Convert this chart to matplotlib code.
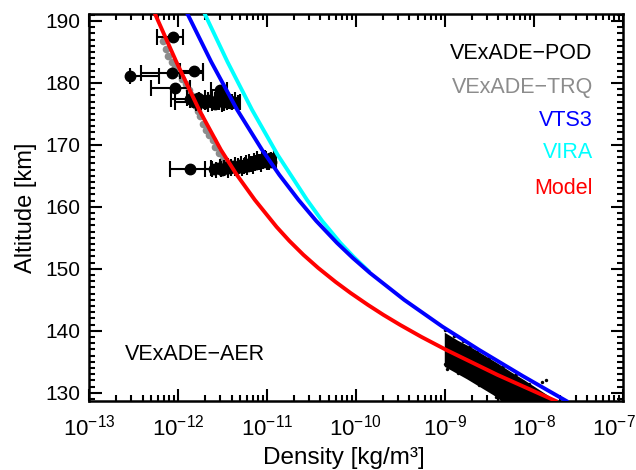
import numpy as np
import matplotlib
matplotlib.use("Agg")
import matplotlib.pyplot as plt
import matplotlib.transforms as mtransforms
from matplotlib.ticker import LogLocator, MultipleLocator

# --- model / reference curves (log10 density, altitude km) ---
model_alt = [191.13, 183.39, 175.65, 169.19, 165.16, 161.13, 156.77, 154.52, 152.26, 150.16, 147.90,
             146.13, 144.19, 142.58, 140.97, 139.03, 136.94, 132.90, 128.71]
model_log = [-12.258, -12.018, -11.762, -11.517, -11.338, -11.136, -10.891, -10.748, -10.589, -10.424, -10.228,
             -10.061, -9.864, -9.690, -9.503, -9.263, -8.985, -8.407, -7.755]

vts3_alt = [191.13, 183.39, 175.65, 169.19, 165.16, 161.13, 157.74, 154.19, 151.77, 149.35, 145.0,
            140.69, 136.94, 132.74, 128.71]
vts3_log = [-11.893, -11.626, -11.334, -11.054, -10.860, -10.645, -10.446, -10.212, -10.035, -9.842, -9.456,
            -9.027, -8.615, -8.126, -7.635]

vira_alt = [191.13, 183.39, 175.65, 168.39, 161.13, 157.74, 154.19, 151.94, 149.68]
vira_log = [-11.699, -11.443, -11.167, -10.879, -10.549, -10.379, -10.174, -10.025, -9.860]

# --- VExADE-TRQ (grey dots) ---
trq_alt = [186.8, 185.5, 184.4, 183.4, 182.5, 181.6, 180.7, 179.8, 178.9, 178.0, 177.1,
           176.2, 175.4, 174.6, 173.4, 172.4, 171.6, 170.8, 169.7, 168.7, 167.7]
trq_log = [-12.17, -12.14, -12.11, -12.07, -12.03, -11.99, -11.95, -11.91, -11.88, -11.85, -11.83,
           -11.80, -11.77, -11.75, -11.72, -11.69, -11.65, -11.61, -11.58, -11.54, -11.49]

# --- VExADE-POD (circles with density error bars, log10 centre / low / high) ---
pod_alt = [187.4, 181.1, 181.6, 181.9, 179.2, 178.9, 166.1,
           177.4, 177.0, 177.6, 177.2, 176.8, 177.3, 177.0, 176.6, 177.4, 177.1, 176.9, 177.3, 176.8, 177.0,
           166.1, 166.3, 166.0, 166.4, 166.2, 166.6, 166.3, 166.7, 166.5, 166.9,
           166.6, 167.0, 167.3, 166.9, 167.4, 167.7, 167.2, 167.6, 167.9, 167.3]
pod_log = [-12.06, -12.54, -12.07, -11.82, -12.03, -11.53, -11.86,
           -11.86, -11.82, -11.78, -11.74, -11.70, -11.66, -11.62, -11.58, -11.55, -11.50, -11.46, -11.43, -11.40, -11.37,
           -11.60, -11.55, -11.50, -11.46, -11.42, -11.38, -11.34, -11.30, -11.27, -11.24,
           -11.21, -11.18, -11.15, -11.12, -11.09, -11.06, -11.03, -11.00, -10.97, -10.95]
pod_lo = [-12.24, -12.54, -12.42, -11.98, -12.30, -11.63, -12.09,
          -12.08, -12.03, -11.90, -11.86, -11.80, -11.76, -11.70, -11.66, -11.63, -11.58, -11.54, -11.51, -11.48, -11.45,
          -11.70, -11.63, -11.57, -11.53, -11.48, -11.44, -11.40, -11.36, -11.32, -11.29,
          -11.26, -11.23, -11.20, -11.17, -11.14, -11.11, -11.08, -11.05, -11.02, -11.00]
pod_hi = [-11.94, -12.21, -11.72, -11.72, -11.87, -11.45, -11.62,
          -11.62, -11.74, -11.70, -11.66, -11.62, -11.58, -11.54, -11.50, -11.47, -11.43, -11.39, -11.36, -11.33, -11.30,
          -11.52, -11.48, -11.44, -11.40, -11.36, -11.32, -11.28, -11.25, -11.22, -11.19,
          -11.16, -11.13, -11.10, -11.07, -11.04, -11.01, -10.98, -10.95, -10.92, -10.90]

# --- VExADE-AER band (edges of the dense point cloud) + loose points on its edge ---
aer_top_log = [-9.0, -8.85, -8.7, -8.55, -8.4, -8.25, -8.1, -7.95, -7.8, -7.74]
aer_top_alt = [139.7, 138.4, 137.3, 136.0, 134.7, 133.3, 132.0, 130.6, 129.2, 128.0]
aer_bot_log = [-8.30, -8.45, -8.6, -8.75, -8.9, -9.0]
aer_bot_alt = [128.0, 129.6, 130.9, 132.2, 133.4, 134.2]
aer_pts_log = [-9.0, -8.98, -8.95, -8.9, -8.8, -8.72, -8.64, -8.5, -8.35, -8.2, -8.05, -7.91, -7.86,
               -9.0, -8.97, -8.85, -8.62, -8.42, -7.95, -7.82, -8.1]
aer_pts_alt = [140.2, 137.5, 135.0, 139.2, 138.3, 137.5, 136.6, 135.6, 134.3, 133.0, 131.4, 131.8, 132.0,
               134.6, 133.8, 133.2, 131.2, 129.3, 129.6, 129.0, 130.2]

x_decades = [1e-13, 1e-12, 1e-11, 1e-10, 1e-9, 1e-8, 1e-7]

labels = ["VExADE\u2212POD", "VExADE\u2212TRQ", "VTS3", "VIRA", "Model"]
label_colors = ["black", "#8c8c8c", "#0000ff", "#00ffff", "#ff0000"]

plt.rcParams['font.family'] = ['Liberation Sans', 'DejaVu Sans']
plt.rcParams['mathtext.fontset'] = 'custom'
plt.rcParams['mathtext.rm'] = 'Liberation Sans'
plt.rcParams['axes.unicode_minus'] = True

fig = plt.figure(figsize=(6.36, 4.70), dpi=100)
ax = fig.add_axes([0.140, 0.147, 0.839, 0.823])

# AER cloud
poly_x = 10.0 ** np.array(aer_top_log + aer_bot_log)
poly_y = np.array(aer_top_alt + aer_bot_alt)
ax.fill(poly_x, poly_y, color="black", lw=0, zorder=2)
ax.scatter(10.0 ** np.array(aer_pts_log), aer_pts_alt, s=6, color="black", lw=0, zorder=2)

# TRQ
ax.plot(10.0 ** np.array(trq_log), trq_alt, "o", color="#8c8c8c", ms=5.5, mec="none", zorder=2)

# POD with error bars
c = 10.0 ** np.array(pod_log)
xerr = [c - 10.0 ** np.array(pod_lo), 10.0 ** np.array(pod_hi) - c]
ax.errorbar(c, pod_alt, xerr=xerr, fmt="o", color="black", ms=7.5, elinewidth=1.5,
            capsize=6, capthick=1.5, zorder=3)

# curves
ax.plot(10.0 ** np.array(vira_log), vira_alt, color="#00ffff", lw=2.8, zorder=4)
ax.plot(10.0 ** np.array(vts3_log), vts3_alt, color="#0000ff", lw=2.8, zorder=5)
ax.plot(10.0 ** np.array(model_log), model_alt, color="#ff0000", lw=2.8, zorder=6)

ax.set_xscale("log")
ax.set_xlim(1e-13, 1e-7)
ax.set_ylim(128.7, 191.1)
ax.set_xticks(x_decades)
ax.xaxis.set_minor_locator(LogLocator(base=10, subs=np.arange(2, 10), numticks=20))
ax.yaxis.set_major_locator(MultipleLocator(10))
ax.yaxis.set_minor_locator(MultipleLocator(1))

ax.tick_params(which="both", direction="in", top=True, right=True, width=1.5, labelsize=15)
ax.tick_params(which="major", length=9)
ax.tick_params(which="minor", length=4.5)
ax.tick_params(axis="x", pad=10, labelsize=16)
ax.tick_params(axis="y", pad=6)
for sp in ax.spines.values():
    sp.set_linewidth(1.8)

# keep the 10^-7 label inside the figure edge
last = ax.xaxis.get_major_ticks()[-1].label1
last.set_transform(last.get_transform() + mtransforms.ScaledTranslation(-6 / 72, 0, fig.dpi_scale_trans))

ax.set_xlabel("Density [kg/m\u00b3]", fontsize=17.5)
ax.xaxis.set_label_coords(0.478, -0.118)
ax.set_ylabel("Altitude [km]", fontsize=17, labelpad=6)

ys = [0.899, 0.809, 0.726, 0.641, 0.550]
for lab, col, yy in zip(labels, label_colors, ys):
    ax.text(0.944, yy, lab, color=col, fontsize=15.5, ha="right", va="center", transform=ax.transAxes)
ax.text(0.0675, 0.119, "VExADE\u2212AER", color="black", fontsize=15.5, ha="left", va="center",
        transform=ax.transAxes)

fig.savefig("out.png", dpi=100)
